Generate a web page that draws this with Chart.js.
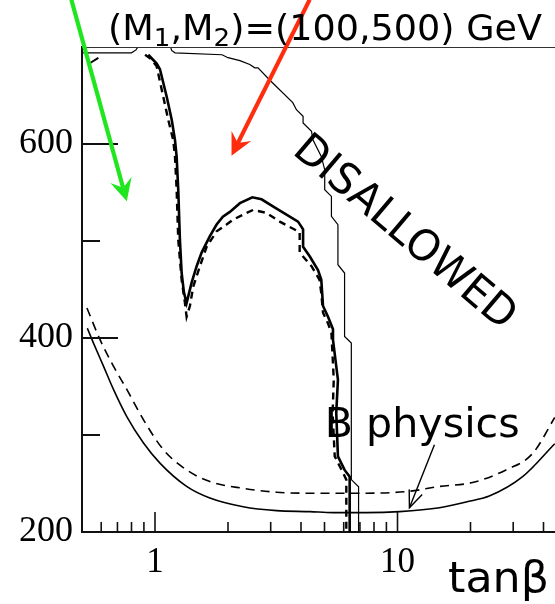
<!DOCTYPE html>
<html><head><meta charset="utf-8">
<script src="https://cdn.jsdelivr.net/npm/chart.js@4.4.0/dist/chart.umd.min.js"></script>
<style>
html,body{margin:0;padding:0;background:#fff;overflow:hidden;}
#wrap{position:relative;width:567px;height:604px;}
</style></head><body>
<div id="wrap"><canvas id="c"></canvas></div>
<script>
// ---------- data ----------
const xRange = [0.5, 50];
const yRange = [200, 700];
const xTickLabels = [1, 10];
const xMinorTicks = [0.6, 0.7, 0.8, 0.9, 2, 3, 4, 5, 6, 7, 8, 9, 20, 30, 40];
const yTickLabels = [200, 400, 600];
const yMinorTicks = [300, 500];

// thin "DISALLOWED" boundary
const boundTanB = [0.505,0.80,0.835,0.85,1.16,1.171,1.209,1.89,2.0,2.24,2.46,2.58,2.66,2.97,3.70,3.83,4.08,4.08,4.42,4.48,4.85,5.01,5.01,5.34,5.34,5.68,5.68,6.05,6.05,6.45,6.45,6.91,6.91];
const boundM    = [694,694,697,700,700,696.5,694,692,689,686,682,678.5,678.5,666,642.6,635.4,628.5,621.6,613,604.4,587.2,573.5,552.9,546,525.4,516.8,475.6,467,401.6,394.8,254,246.7,200];

// small corner stroke at upper left
const cornerTanB = [0.54, 0.584];
const cornerM    = [683.5, 688.7];

// thick solid contour
const solidTanB = [0.938,1.016,1.048,1.117,1.172,1.209,1.228,1.247,1.267,1.288,1.316,1.350,1.416,1.485,1.557,1.684,1.795,1.905,2.035,2.24,2.52,2.75,3.1,3.89,4.08,4.08,4.35,4.70,4.85,4.93,5.17,5.42,5.42,5.68,5.59,5.68,6.05,6.35,6.35];
const solidM    = [692,683,677,649,625,604,587,553,501,467,447,436,457,474,488,505,517,525,530,539,545,543,535,520,512,494,484,470,460,433,422,409,398,357,323,278,264,257,200];

// thick dashed contour
const dashTanB = [0.910,0.969,1.016,1.066,1.134,1.189,1.209,1.228,1.247,1.288,1.329,1.350,1.393,1.438,1.532,1.633,1.795,1.973,2.10,2.385,2.54,2.88,3.27,3.95,3.95,3.95,4.42,4.77,4.85,4.93,5.17,5.34,5.46,5.40,5.51,5.88,6.15,6.15];
const dashM    = [692,687,680,656,625,604,587,553,501,460,436,422,433,453,474,494,510,517,522,529,532,529,520,509,498,488,474,460,446,426,415,405,357,323,278,264,254,200];

// B physics bounds
const bSolidTanB = [0.526,0.557,0.613,0.674,0.765,0.895,1.048,1.350,1.684,2.31,3.17,4.35,5.42,7.4,10.2,14.9,19.2,23.9,32.8,44.5];
const bSolidM    = [410,395,371,347,319,292,271,247,235,226,222,221,220,220,221,225,231,237,257,291];
const bDashTanB  = [0.524,0.594,0.674,0.765,0.895,1.082,1.350,1.684,2.31,3.17,4.35,7.43,11.2,14.9,20.4,28.0,36.1,44.5];
const bDashM     = [431,398,371,347,316,285,264,252,245,241,240,240,242,247,251,264,281,318];

// annotation arrows (tanB, M)
const greenArrowTanB = [0.452, 0.765];
const greenArrowM    = [748.8, 541];
const redArrowTanB   = [4.345, 2.068];
const redArrowM      = [748.8, 588];
const bArrowTanB     = [14.2, 11.2];
const bArrowM        = [290, 225];

// annotation text anchors (tanB, M)
const disallowedAnchor = [3.65, 590.7];
const bPhysicsAnchor   = [5.01, 298];

// ---------- helpers ----------
const pts = (xs, ys) => xs.map((x, i) => ({x, y: ys[i]}));
const SANS = '"DejaVu Sans", sans-serif';
const SERIF = '"Liberation Serif", "Times New Roman", serif';

function fitText(ctx, text, x, y, font, targetW, rot) {
  ctx.save();
  ctx.font = font;
  const w = ctx.measureText(text).width;
  ctx.translate(x, y);
  if (rot) ctx.rotate(rot);
  ctx.scale(targetW / w, 1);
  ctx.textBaseline = 'alphabetic';
  ctx.textAlign = 'left';
  ctx.fillText(text, 0, 0);
  ctx.restore();
}

function drawArrow(ctx, x0, y0, x1, y1, color, lw, style) {
  const a = Math.atan2(y1 - y0, x1 - x0);
  const ux = Math.cos(a), uy = Math.sin(a), px = -uy, py = ux;
  ctx.save();
  ctx.strokeStyle = color; ctx.fillStyle = color; ctx.lineWidth = lw;
  if (style === 'filled') {
    const L = 22, W = 11, N = 14;
    ctx.beginPath(); ctx.moveTo(x0, y0); ctx.lineTo(x1 - ux * N, y1 - uy * N); ctx.stroke();
    ctx.beginPath();
    ctx.moveTo(x1, y1);
    ctx.lineTo(x1 - ux * L + px * W, y1 - uy * L + py * W);
    ctx.lineTo(x1 - ux * N, y1 - uy * N);
    ctx.lineTo(x1 - ux * L - px * W, y1 - uy * L - py * W);
    ctx.closePath(); ctx.fill();
  } else {
    const L = 17, W = 7;
    ctx.beginPath(); ctx.moveTo(x0, y0); ctx.lineTo(x1, y1); ctx.stroke();
    ctx.beginPath();
    ctx.moveTo(x1 - ux * L + px * W, y1 - uy * L + py * W);
    ctx.lineTo(x1, y1);
    ctx.lineTo(x1 - ux * L - px * W, y1 - uy * L - py * W);
    ctx.stroke();
  }
  ctx.restore();
}

const decor = {
  id: 'decor',
  afterDatasetsDraw(chart) {
    const {ctx, chartArea: ca, scales: {x, y}} = chart;
    ctx.save();
    // top frame line
    ctx.strokeStyle = '#333'; ctx.lineWidth = 1;
    ctx.beginPath(); ctx.moveTo(ca.left, ca.top + 0.5); ctx.lineTo(ca.right, ca.top + 0.5); ctx.stroke();
    // inward ticks
    ctx.strokeStyle = '#111'; ctx.lineWidth = 2;
    yTickLabels.forEach(v => { const p = y.getPixelForValue(v); ctx.beginPath(); ctx.moveTo(ca.left, p); ctx.lineTo(ca.left + 36, p); ctx.stroke(); });
    yMinorTicks.forEach(v => { const p = y.getPixelForValue(v); ctx.beginPath(); ctx.moveTo(ca.left, p); ctx.lineTo(ca.left + 18, p); ctx.stroke(); });
    ctx.lineWidth = 1.6;
    xTickLabels.forEach(v => { const p = x.getPixelForValue(v); ctx.beginPath(); ctx.moveTo(p, ca.bottom); ctx.lineTo(p, ca.bottom - 20); ctx.stroke(); });
    xMinorTicks.forEach(v => { const p = x.getPixelForValue(v); ctx.beginPath(); ctx.moveTo(p, ca.bottom); ctx.lineTo(p, ca.bottom - 10); ctx.stroke(); });
    ctx.restore();

    // arrows
    drawArrow(ctx, x.getPixelForValue(greenArrowTanB[0]), y.getPixelForValue(greenArrowM[0]),
                   x.getPixelForValue(greenArrowTanB[1]), y.getPixelForValue(greenArrowM[1]), '#1fe61f', 4.2, 'filled');
    drawArrow(ctx, x.getPixelForValue(redArrowTanB[0]), y.getPixelForValue(redArrowM[0]),
                   x.getPixelForValue(redArrowTanB[1]), y.getPixelForValue(redArrowM[1]), '#ff2d0d', 4.2, 'filled');
    drawArrow(ctx, x.getPixelForValue(bArrowTanB[0]), y.getPixelForValue(bArrowM[0]),
                   x.getPixelForValue(bArrowTanB[1]), y.getPixelForValue(bArrowM[1]), '#000', 1.4, 'open');

    // texts
    ctx.fillStyle = '#000';
    fitText(ctx, 'DISALLOWED', x.getPixelForValue(disallowedAnchor[0]), y.getPixelForValue(disallowedAnchor[1]),
            '43px ' + SANS, 276, 40.2 * Math.PI / 180);
    fitText(ctx, 'B physics', x.getPixelForValue(bPhysicsAnchor[0]), y.getPixelForValue(bPhysicsAnchor[1]),
            '41px ' + SANS, 195);
    fitText(ctx, 'tan\u03B2', 448, 591.5, '42px ' + SANS, 101);

    // title with subscripts
    const segs = [['(M', 0], ['1', 1], [',M', 0], ['2', 1], [')=(100,500) GeV', 0]];
    const fMain = '35px ' + SANS, fSub = '25px ' + SANS;
    let total = 0;
    segs.forEach(s => { ctx.font = s[1] ? fSub : fMain; total += ctx.measureText(s[0]).width; });
    const sx = 434 / total;
    ctx.save();
    ctx.translate(108, 40);
    ctx.scale(sx, 1);
    let cx = 0;
    segs.forEach(s => {
      ctx.font = s[1] ? fSub : fMain;
      ctx.fillText(s[0], cx, s[1] ? 6 : 0);
      cx += ctx.measureText(s[0]).width;
    });
    ctx.restore();
  }
};

const lineDS = (data, w, dash, extra) => Object.assign({
  data, showLine: true, borderColor: '#000', backgroundColor: '#000',
  borderWidth: w, borderDash: dash || [], pointRadius: 0, tension: 0, fill: false
}, extra || {});

new Chart(document.getElementById('c'), {
  type: 'scatter',
  data: {
    datasets: [
      lineDS(pts(boundTanB, boundM), 1.2),
      lineDS(pts(cornerTanB, cornerM), 2),
      lineDS(pts(solidTanB, solidM), 2.6),
      lineDS(pts(dashTanB, dashM), 2.4, [7, 5]),
      lineDS(pts(bSolidTanB, bSolidM), 1.6, [], {cubicInterpolationMode: 'monotone'}),
      lineDS(pts(bDashTanB, bDashM), 1.6, [9, 6], {cubicInterpolationMode: 'monotone'})
    ]
  },
  options: {
    responsive: true, maintainAspectRatio: false, animation: false, events: [],
    devicePixelRatio: 1,
    layout: {padding: {top: 47, right: 0, left: 0, bottom: 0}},
    plugins: {legend: {display: false}, tooltip: {enabled: false}, title: {display: false}},
    scales: {
      x: {
        type: 'logarithmic', min: xRange[0], max: xRange[1],
        grid: {display: false, drawTicks: false},
        border: {display: true, color: '#111', width: 2},
        afterBuildTicks: s => { s.ticks = xTickLabels.map(v => ({value: v})); },
        afterFit: s => { s.height = 72; },
        ticks: {callback: v => String(v), color: '#000', padding: 10, maxRotation: 0, autoSkip: false,
                font: {family: SERIF, size: 35}}
      },
      y: {
        type: 'linear', min: yRange[0], max: yRange[1],
        grid: {display: false, drawTicks: false},
        border: {display: true, color: '#111', width: 2},
        afterBuildTicks: s => { s.ticks = yTickLabels.map(v => ({value: v})); },
        afterFit: s => { s.width = 82; },
        ticks: {callback: v => String(v), color: '#000', padding: 9, autoSkip: false,
                font: {family: SERIF, size: 36}}
      }
    }
  },
  plugins: [decor]
});
</script>
</body></html>
